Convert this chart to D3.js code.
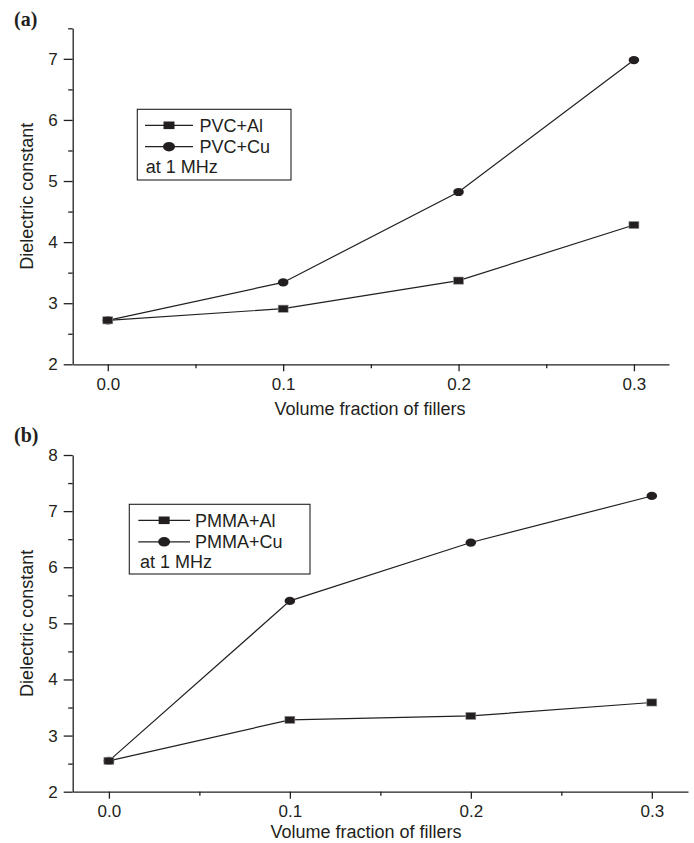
<!DOCTYPE html>
<html lang="en">
<head>
    <meta charset="UTF-8">
    <title>Dielectric constant vs volume fraction</title>
    <script src="https://d3js.org/d3.v7.min.js"></script>
    <style>
        body { margin: 0; background: #fff; }
        text { font-family: "Liberation Sans", Arial, sans-serif; fill: #231f20; }
        .axis path, .axis line { stroke: #231f20; stroke-width: 1.3px; }
        .axis text { font-size: 17px; font-family: "Liberation Sans", Arial, sans-serif; }
        .series { fill: none; stroke: #231f20; stroke-width: 1.2px; }
        .panel-label { font-family: "Liberation Serif", "Times New Roman", serif; font-weight: bold; font-size: 20px; }
        .axis-title { font-size: 18px; }
        .legend text { font-size: 18px; }
    </style>
</head>
<body>
<svg width="694" height="843"></svg>
<script>
    // Data
    const fractions = [0.0, 0.1, 0.2, 0.3];
    const xTickValues = [0.0, 0.1, 0.2, 0.3];
    const xMinorValues = [0.05, 0.15, 0.25];

    // (a) PVC composites
    const pvcAl = [2.72, 2.91, 3.37, 4.28];
    const pvcCu = [2.72, 3.34, 4.82, 6.98];
    const yTicksA = [2, 3, 4, 5, 6, 7];
    const yMinorA = [2.5, 3.5, 4.5, 5.5, 6.5, 7.5];
    const legendA = ["PVC+Al", "PVC+Cu"];

    // (b) PMMA composites
    const pmmaAl = [2.55, 3.28, 3.35, 3.59];
    const pmmaCu = [2.55, 5.40, 6.44, 7.27];
    const yTicksB = [2, 3, 4, 5, 6, 7, 8];
    const yMinorB = [2.5, 3.5, 4.5, 5.5, 6.5, 7.5];
    const legendB = ["PMMA+Al", "PMMA+Cu"];

    const freqNote = "at 1 MHz";
    const xTitle = "Volume fraction of fillers";
    const yTitle = "Dielectric constant";

    const svg = d3.select("svg");

    function drawPanel(p) {
        const x = d3.scaleLinear().domain([-0.02, 0.32]).range([p.left, p.right]);
        const y = d3.scaleLinear().domain(p.yDomain).range([p.bottom, p.top]);
        const g = svg.append("g");

        // x axis with minor ticks
        g.append("g")
            .attr("class", "axis")
            .attr("transform", "translate(0," + p.bottom + ")")
            .call(d3.axisBottom(x).tickValues(xTickValues).tickSize(7).tickSizeOuter(0)
                .tickPadding(6.5).tickFormat(d3.format(".1f")));
        g.append("g")
            .attr("class", "axis")
            .attr("transform", "translate(0," + p.bottom + ")")
            .call(d3.axisBottom(x).tickValues(xMinorValues).tickSize(4).tickFormat(""))
            .select(".domain").remove();

        // y axis with minor ticks
        g.append("g")
            .attr("class", "axis")
            .attr("transform", "translate(" + p.left + ",0)")
            .call(d3.axisLeft(y).tickValues(p.yTicks).tickSize(9).tickSizeOuter(0)
                .tickPadding(6).tickFormat(d3.format("d")));
        g.append("g")
            .attr("class", "axis")
            .attr("transform", "translate(" + p.left + ",0)")
            .call(d3.axisLeft(y).tickValues(p.yMinor).tickSize(4.5).tickFormat(""))
            .select(".domain").remove();

        // series: Cu first so Al markers sit on top at 0.0
        const line = d3.line().x((d, i) => x(fractions[i])).y(d => y(d));
        g.append("path").datum(p.cu).attr("class", "series").attr("d", line);
        g.append("path").datum(p.al).attr("class", "series").attr("d", line);

        g.selectAll(".cu-dot")
            .data(p.cu)
            .enter().append("ellipse")
            .attr("class", "cu-dot")
            .attr("cx", (d, i) => x(fractions[i]))
            .attr("cy", d => y(d))
            .attr("rx", 5.3)
            .attr("ry", 4.1)
            .attr("fill", "#231f20");

        g.selectAll(".al-dot")
            .data(p.al)
            .enter().append("rect")
            .attr("class", "al-dot")
            .attr("x", (d, i) => x(fractions[i]) - 5)
            .attr("y", d => y(d) - 3.6)
            .attr("width", 10)
            .attr("height", 7.2)
            .attr("fill", "#231f20")
            .attr("stroke", "#9a9a9a")
            .attr("stroke-width", 0.6);

        // panel label
        svg.append("text")
            .attr("class", "panel-label")
            .attr("x", 14)
            .attr("y", p.labelY)
            .text(p.label);

        // axis titles
        svg.append("text")
            .attr("class", "axis-title")
            .attr("x", p.xTitleX)
            .attr("y", p.xTitleY)
            .attr("text-anchor", "middle")
            .text(xTitle);

        svg.append("text")
            .attr("class", "axis-title")
            .attr("transform", "translate(33," + ((p.top + p.bottom) / 2) + ") rotate(-90)")
            .attr("text-anchor", "middle")
            .text(yTitle);

        // legend
        const lg = svg.append("g").attr("class", "legend");
        const b = p.legend;
        lg.append("rect")
            .attr("x", b.x0).attr("y", b.y0)
            .attr("width", b.x1 - b.x0).attr("height", b.y1 - b.y0)
            .attr("fill", "#fff").attr("stroke", "#231f20").attr("stroke-width", 1.1);

        p.names.forEach((name, i) => {
            const cy = b.rows[i];
            lg.append("line")
                .attr("x1", b.lineX0).attr("x2", b.lineX1)
                .attr("y1", cy).attr("y2", cy)
                .attr("stroke", "#231f20").attr("stroke-width", 1.2);
            const mx = (b.lineX0 + b.lineX1) / 2;
            if (i === 0) {
                lg.append("rect")
                    .attr("x", mx - 5.5).attr("y", cy - 3.8)
                    .attr("width", 11).attr("height", 7.6)
                    .attr("fill", "#231f20");
            } else {
                lg.append("ellipse")
                    .attr("cx", mx).attr("cy", cy)
                    .attr("rx", 6).attr("ry", 4.8)
                    .attr("fill", "#231f20");
            }
            lg.append("text")
                .attr("x", b.textX)
                .attr("y", cy + 6.4)
                .text(name);
        });
        lg.append("text")
            .attr("x", b.noteX)
            .attr("y", b.rows[2] + 6.4)
            .text(freqNote);
    }

    drawPanel({
        label: "(a)", labelY: 26,
        left: 72.7, right: 669, top: 28.3, bottom: 364.3,
        yDomain: [2, 7.5], yTicks: yTicksA, yMinor: yMinorA,
        al: pvcAl, cu: pvcCu, names: legendA,
        xTitleX: 370, xTitleY: 415,
        legend: { x0: 137.3, x1: 291, y0: 109.3, y1: 180,
                  rows: [125.3, 146.7, 166.5], lineX0: 145, lineX1: 193,
                  textX: 199.5, noteX: 145.7 }
    });

    drawPanel({
        label: "(b)", labelY: 442,
        left: 72.7, right: 688, top: 455, bottom: 791.7,
        yDomain: [2, 8], yTicks: yTicksB, yMinor: yMinorB,
        al: pmmaAl, cu: pmmaCu, names: legendB,
        xTitleX: 366, xTitleY: 838,
        legend: { x0: 129.3, x1: 310, y0: 504.3, y1: 574,
                  rows: [520.3, 541.8, 562], lineX0: 138.3, lineX1: 190,
                  textX: 195, noteX: 140 }
    });
</script>
</body>
</html>
